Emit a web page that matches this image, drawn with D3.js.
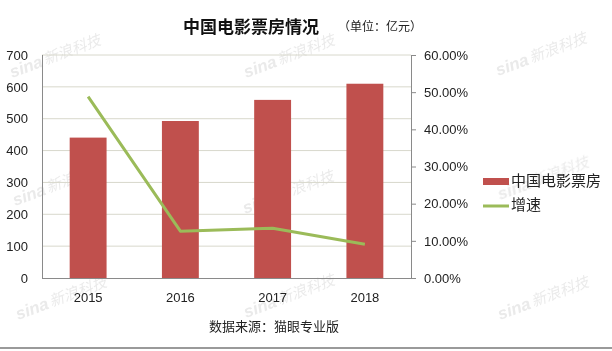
<!DOCTYPE html>
<html>
<head>
<meta charset="utf-8">
<script src="https://cdn.jsdelivr.net/npm/d3@7"></script>
<style>
  html, body { margin: 0; padding: 0; background: #fff; }
  svg { display: block; }
</style>
</head>
<body>
<svg id="chart" width="612" height="351"></svg>
<script>
const years = ["2015", "2016", "2017", "2018"];
const boxOffice = [440.7, 492.8, 559.1, 609.8];
const growth = [48.8, 12.6, 13.4, 9.1];
const leftTicks = [0, 100, 200, 300, 400, 500, 600, 700];
const rightTicks = [0, 10, 20, 30, 40, 50, 60];
const titleText = "中国电影票房情况";
const unitText = "（单位：亿元）";
const sourceText = "数据来源：猫眼专业版";
const legendLabels = ["中国电影票房", "增速"];
const watermarks = [[12, 78], [246, 78], [498, 76], [15, 206], [245, 214], [500, 200], [18, 320], [246, 318], [500, 320]];

const svg = d3.select("#chart");
const cjk = "'Noto Sans CJK SC', 'Noto Sans', sans-serif";
const latin = "'Liberation Sans', Arial, sans-serif";
const barColor = "#C0504D";
const lineColor = "#9BBB59";

const plot = { left: 42, right: 411, top: 55, bottom: 278 };

// watermarks (behind)
const wm = svg.append("g").attr("fill", "#c4c4c4").attr("opacity", 0.35);
watermarks.forEach(([x, y]) => {
  const g = wm.append("g").attr("transform", `translate(${x},${y}) rotate(-20)`);
  g.append("text").attr("x", 0).attr("y", 0)
    .attr("font-family", latin).attr("font-weight", "bold").attr("font-style", "italic")
    .attr("font-size", 17).text("sina");
  g.append("text").attr("x", 36).attr("y", -1)
    .attr("font-family", cjk).attr("font-style", "italic")
    .attr("font-size", 15).text("新浪科技");
});

const x = d3.scaleBand().domain(years).range([plot.left, plot.right]).padding(0);
const yL = d3.scaleLinear().domain([0, 700]).range([plot.bottom, plot.top]);
const yR = d3.scaleLinear().domain([0, 60]).range([plot.bottom, plot.top]);

// gridlines
svg.append("g").selectAll("line").data(leftTicks.filter(d => d > 0)).join("line")
  .attr("x1", plot.left).attr("x2", plot.right)
  .attr("y1", d => yL(d)).attr("y2", d => yL(d))
  .attr("stroke", "#d8d8cc").attr("stroke-width", 1);

// bars
const bw = x.bandwidth() * 0.4;
svg.append("g").selectAll("rect").data(years).join("rect")
  .attr("x", d => x(d) + (x.bandwidth() - bw) / 2)
  .attr("width", bw)
  .attr("y", (d, i) => yL(boxOffice[i]))
  .attr("height", (d, i) => yL(0) - yL(boxOffice[i]))
  .attr("fill", barColor);

// axes lines
const axisColor = "#8a8a8a";
svg.append("line").attr("x1", plot.left + 0.5).attr("x2", plot.left + 0.5)
  .attr("y1", plot.top).attr("y2", plot.bottom).attr("stroke", axisColor);
svg.append("line").attr("x1", plot.left).attr("x2", plot.right)
  .attr("y1", plot.bottom + 0.5).attr("y2", plot.bottom + 0.5).attr("stroke", axisColor);

// left axis
const leftAxis = d3.axisLeft(yL).tickValues(leftTicks).tickSize(0).tickPadding(14).tickFormat(d3.format("d"));
const gl = svg.append("g").attr("transform", `translate(${plot.left},0)`).call(leftAxis);
gl.select(".domain").remove();
gl.selectAll("text").attr("font-family", latin).attr("font-size", 13).attr("fill", "#222");

// right axis
const rightAxis = d3.axisRight(yR).tickValues(rightTicks).tickSize(5).tickPadding(8)
  .tickFormat(d => d.toFixed(2) + "%");
const gr = svg.append("g").attr("transform", `translate(${plot.right},0)`).call(rightAxis);
gr.select(".domain").attr("stroke", axisColor).attr("d", `M0.5,${plot.top}V${plot.bottom}`);
gr.selectAll(".tick line").attr("stroke", axisColor);
gr.selectAll("text").attr("font-family", latin).attr("font-size", 13).attr("fill", "#222");

// bottom axis labels
const xAxis = d3.axisBottom(x).tickSize(0).tickPadding(15);
const gx = svg.append("g").attr("transform", `translate(0,${plot.bottom})`).call(xAxis);
gx.select(".domain").remove();
gx.selectAll("text").attr("font-family", latin).attr("font-size", 13).attr("fill", "#222");

// growth line
const line = d3.line()
  .x((d, i) => x(years[i]) + x.bandwidth() / 2)
  .y(d => yR(d));
svg.append("path").datum(growth).attr("d", line)
  .attr("fill", "none").attr("stroke", lineColor).attr("stroke-width", 3)
  .attr("stroke-linejoin", "round");

// title
svg.append("text").attr("x", 183).attr("y", 28).attr("dominant-baseline", "middle")
  .attr("font-family", cjk).attr("font-weight", "bold").attr("font-size", 17)
  .attr("fill", "#111").text(titleText);
svg.append("text").attr("x", 338).attr("y", 28).attr("dominant-baseline", "middle")
  .attr("font-family", cjk).attr("font-size", 12)
  .attr("fill", "#222").text(unitText);

// legend
const lg = svg.append("g");
lg.append("rect").attr("x", 483).attr("y", 178).attr("width", 26).attr("height", 7).attr("fill", barColor);
lg.append("line").attr("x1", 483).attr("x2", 509).attr("y1", 206).attr("y2", 206)
  .attr("stroke", lineColor).attr("stroke-width", 3);
lg.selectAll("text").data(legendLabels).join("text")
  .attr("x", 511).attr("y", (d, i) => 182 + i * 24)
  .attr("dominant-baseline", "middle")
  .attr("font-family", cjk).attr("font-size", 15).attr("fill", "#222")
  .text(d => d);

// source
svg.append("text").attr("x", 274).attr("y", 327).attr("dominant-baseline", "middle")
  .attr("text-anchor", "middle")
  .attr("font-family", cjk).attr("font-size", 13).attr("fill", "#222").text(sourceText);

// bottom border
svg.append("line").attr("x1", 0).attr("x2", 612).attr("y1", 348).attr("y2", 348)
  .attr("stroke", "#9a9a9a").attr("stroke-width", 2);
</script>
</body>
</html>
